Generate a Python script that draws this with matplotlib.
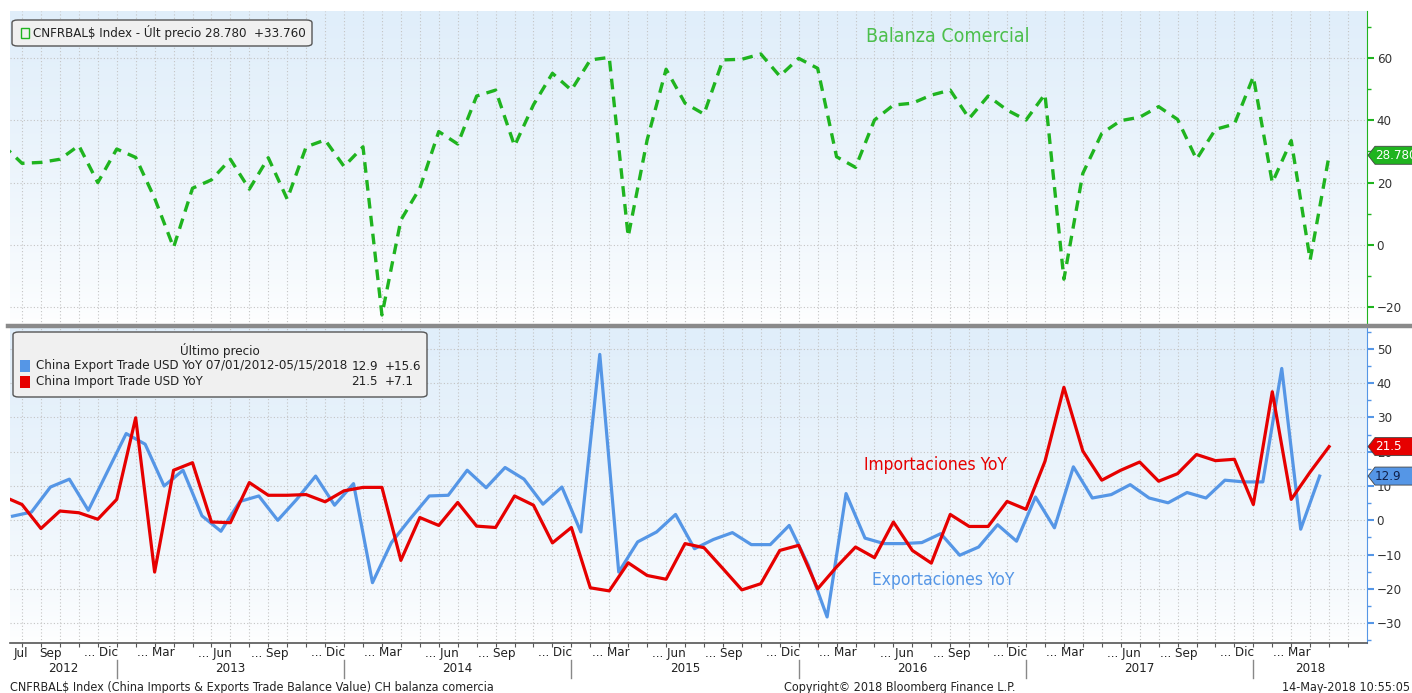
import numpy as np
import matplotlib
matplotlib.use('Agg')
import matplotlib.pyplot as plt
from matplotlib import font_manager, transforms
from matplotlib.colors import LinearSegmentedColormap
from matplotlib.patches import FancyBboxPatch, Polygon, Rectangle
from matplotlib.lines import Line2D

W, H = 1412, 693

# fuente estrecha si existe
_names = {f.name for f in font_manager.fontManager.ttflist}
if 'Liberation Sans Narrow' in _names:
    plt.rcParams['font.family'] = ['Liberation Sans Narrow', 'DejaVu Sans']
else:
    plt.rcParams['font.family'] = ['DejaVu Sans']
    plt.rcParams['font.stretch'] = 'condensed'

# Datos mensuales: índice 0 = Jul 2012, 69 = Abr 2018
# Balanza comercial (Jun 2012 .. Abr 2018)
balanza = [32.0, 26.2, 26.5, 27.5, 31.9, 20.0, 30.8, 28.1, 15.0, -0.8,
           18.2, 20.9, 27.5, 17.9, 28.0, 14.7, 31.5, 33.7, 25.2, 31.5,
           -22.5, 8.0, 18.2, 36.4, 32.4, 47.8, 49.7, 31.8, 45.0, 55.1,
           49.7, 59.4, 60.2, 2.7, 33.7, 56.4, 45.5, 42.0, 59.4, 59.6,
           61.3, 54.2, 59.9, 56.7, 28.3, 24.9, 40.1, 44.9, 45.5, 48.1,
           49.7, 40.6, 47.8, 43.3, 40.1, 48.4, -11.0, 23.0, 35.8, 39.9,
           41.0, 44.4, 40.3, 27.5, 37.1, 38.8, 54.0, 20.0, 33.5, -4.8,
           28.78]
# Importaciones YoY (Jun 2012 .. Abr 2018)
importaciones = [7.0, 4.6, -2.4, 2.7, 2.2, 0.3, 6.1, 29.9, -15.1, 14.6,
                 16.8, -0.5, -0.7, 11.0, 7.3, 7.3, 7.5, 5.4, 8.6, 9.6,
                 9.6, -11.7, 0.8, -1.5, 5.2, -1.7, -2.1, 7.1, 4.4, -6.6,
                 -2.1, -19.7, -20.6, -12.4, -16.1, -17.2, -6.8, -8.0, -14.1, -20.3,
                 -18.5, -8.8, -7.3, -20.0, -13.6, -7.8, -10.9, -0.5, -8.8, -12.5,
                 1.7, -1.8, -1.8, 5.5, 3.2, 17.2, 38.8, 20.2, 11.7, 14.6,
                 17.0, 11.4, 13.6, 19.2, 17.4, 17.8, 4.6, 37.5, 6.1, 14.1,
                 21.5]
# Exportaciones YoY (Jul 2012 .. Abr 2018)
exportaciones = [1.2, 2.4, 9.7, 12.0, 2.9, 14.1, 25.3, 22.2, 10.0, 14.6,
                 1.3, -3.2, 5.5, 7.1, 0.0, 6.1, 12.9, 4.4, 10.7, -18.2,
                 -6.5, 0.5, 7.1, 7.3, 14.6, 9.5, 15.4, 12.0, 4.7, 9.7,
                 -3.4, 48.4, -15.1, -6.3, -3.4, 1.7, -8.3, -5.6, -3.6, -7.1,
                 -7.1, -1.5, -13.0, -28.2, 7.8, -5.2, -6.8, -6.8, -6.5, -3.9,
                 -10.2, -7.8, -1.3, -6.1, 6.8, -2.2, 15.6, 6.5, 7.5, 10.4,
                 6.5, 5.1, 8.1, 6.5, 11.7, 11.2, 11.2, 44.3, -2.6, 12.9]

x_bal = np.arange(-1, 70)
x_imp = np.arange(-1, 70)
x_exp = np.arange(0, 70) - 0.5   # Bloomberg lo dibuja a mitad de mes

# etiquetas del eje x
mes_pos = [0, 2, 5] + [m + 12 * k for k in range(5) for m in (8, 11, 14, 17)] + [68]
mes_txt = ['Jul', 'Sep', '... Dic'] + ['... Mar', '... Jun', '... Sep', '... Dic'] * 5 + ['... Mar']
anios = ['2012', '2013', '2014', '2015', '2016', '2017', '2018']
cortes_anio = [5, 17, 29, 41, 53, 65]

VERDE = '#1fb41f'
ROJO = '#e60000'
AZUL = '#5596e6'
XMIN, XMAX = -0.634, 71.0

fig = plt.figure(figsize=(W / 100, H / 100), dpi=100)
fig.patch.set_facecolor('white')


def fx(x):
    return x / W


def fy(y):
    return 1 - y / H


ax1 = fig.add_axes([fx(10), fy(325), 1357 / W, 314 / H])
ax2 = fig.add_axes([fx(10), fy(643), 1357 / W, 315 / H])

grad = LinearSegmentedColormap.from_list('g', ['#ffffff', '#e0eefa'])
for ax in (ax1, ax2):
    ax.imshow(np.linspace(1, 0, 256)[:, None] ** 0.7, cmap=grad, aspect='auto',
              extent=[0, 1, 0, 1], transform=ax.transAxes, zorder=0)
    ax.set_xlim(XMIN, XMAX)
    for i in range(0, 71):
        ax.axvline(i, color='#c4c4c4', lw=0.8, ls=(0, (1, 2)), zorder=1)
    for s in ('top', 'left', 'bottom'):
        ax.spines[s].set_visible(False)
    ax.yaxis.tick_right()
    ax.tick_params(axis='y', which='both', direction='out', labelsize=9.5,
                   labelcolor='#333333', pad=2)
    ax.tick_params(axis='y', which='major', length=5, width=1.5)
    ax.tick_params(axis='y', which='minor', length=3, width=1)

# ---- panel superior: balanza comercial
ax1.set_ylim(-25.7, 75.1)
for v in (-20, 0, 20, 40, 60):
    ax1.axhline(v, color='#c4c4c4', lw=0.8, ls=(0, (1, 2)), zorder=1)
ax1.plot(x_bal, balanza, color=VERDE, lw=2.4, ls=(0, (3.2, 2.2)), zorder=3)
ax1.set_yticks([-20, 0, 20, 40, 60])
ax1.set_yticks([-10, 10, 30, 50, 70], minor=True)
ax1.spines['right'].set_color(VERDE)
ax1.tick_params(axis='y', which='both', color=VERDE)
ax1.set_xticks([])
ax1.text(948 / W, fy(37), 'Balanza Comercial', transform=fig.transFigure,
         ha='center', va='center', fontsize=14, color='#4cbf4c')

# ---- panel inferior: importaciones / exportaciones
ax2.set_ylim(-35.8, 56.1)
for v in range(-30, 51, 10):
    ax2.axhline(v, color='#c4c4c4', lw=0.8, ls=(0, (1, 2)), zorder=1)
ax2.plot(x_exp, exportaciones, color=AZUL, lw=2.3, zorder=3)
ax2.plot(x_imp, importaciones, color=ROJO, lw=2.3, zorder=4)
ax2.set_yticks(range(-30, 51, 10))
ax2.set_yticks(range(-35, 56, 10), minor=True)
ax2.spines['right'].set_color(AZUL)
ax2.spines['bottom'].set_visible(True)
ax2.spines['bottom'].set_color('#555555')
ax2.spines['bottom'].set_linewidth(1.2)
ax2.tick_params(axis='y', which='both', color=AZUL)
ax2.set_xticks(range(0, 71))
ax2.set_xticklabels([])
ax2.tick_params(axis='x', length=3, color='#555555', direction='out')
ax2.text(935 / W, fy(465), 'Importaciones YoY', transform=fig.transFigure,
         ha='center', va='center', fontsize=12.5, color=ROJO)
ax2.text(943 / W, fy(580), 'Exportaciones YoY', transform=fig.transFigure,
         ha='center', va='center', fontsize=12.5, color=AZUL)

# etiquetas de meses y años
tr = transforms.blended_transform_factory(ax2.transData, fig.transFigure)
for p, t in zip(mes_pos, mes_txt):
    if t == 'Jul':
        fig.text(p - 0.45, fy(653), t, transform=tr, ha='left', va='center', fontsize=9.5, color='#222222')
    elif t.startswith('...'):
        fig.text(p - 0.5 + 0.55, fy(653), t, transform=tr, ha='right', va='center', fontsize=9.5, color='#222222')
    else:
        fig.text(p - 0.5, fy(653), t, transform=tr, ha='center', va='center', fontsize=9.5, color='#222222')
bordes = [XMIN] + cortes_anio + [XMAX]
for k, a in enumerate(anios):
    fig.text((bordes[k] + bordes[k + 1]) / 2, fy(668), a, transform=tr,
             ha='center', va='center', fontsize=9.5, color='#222222')
for c in cortes_anio:
    fig.add_artist(Line2D([c, c], [fy(660), fy(678)], transform=tr, color='#888888', lw=1))

# separador gris entre paneles
fig.add_artist(Line2D([fx(8), 1], [fy(326.5), fy(326.5)], color='#8a8a8a', lw=3.2))

# etiquetas de último valor a la derecha
def etiqueta(ax, v, txt, fondo, color_txt):
    yc = ax.transData.transform((0, v))[1]
    x0 = ax.transAxes.transform((1, 0))[0] + 1
    pts = [(x0, yc), (x0 + 7, yc + 9), (x0 + 60, yc + 9), (x0 + 60, yc - 9), (x0 + 7, yc - 9)]
    fig.add_artist(Polygon(pts, closed=True, transform=None, facecolor=fondo,
                           edgecolor='#444444', lw=0.6, zorder=10))
    fig.text((x0 + 7) / W, yc / H, txt, ha='left', va='center', fontsize=9.5,
             color=color_txt, zorder=11)


etiqueta(ax1, balanza[-1], '28.780', VERDE, 'white')
etiqueta(ax2, importaciones[-1], '21.5', ROJO, 'white')
etiqueta(ax2, exportaciones[-1], '12.9', AZUL, '#10204a')

# leyenda superior
fig.add_artist(FancyBboxPatch((fx(12), fy(46)), 300 / W, 26 / H,
                              boxstyle='round,pad=0,rounding_size=0.004',
                              transform=fig.transFigure, facecolor='#f0f0f0',
                              edgecolor='#555555', lw=1, zorder=9))
fig.add_artist(Rectangle((fx(21), fy(38)), 8 / W, 10 / H, transform=fig.transFigure,
                         facecolor='none', edgecolor=VERDE, lw=1, zorder=10))
fig.text(fx(33), fy(33), 'CNFRBAL$ Index - Últ precio 28.780  +33.760', ha='left',
         va='center', fontsize=9.5, color='#222222', zorder=10)

# leyenda inferior
fig.add_artist(FancyBboxPatch((fx(13), fy(397)), 414 / W, 65 / H,
                              boxstyle='round,pad=0,rounding_size=0.004',
                              transform=fig.transFigure, facecolor='#f0f0f0',
                              edgecolor='#555555', lw=1, zorder=9))
fig.text(fx(220), fy(350), 'Último precio', ha='center', va='center', fontsize=9.5,
         color='#222222', zorder=10)
for y, col, nombre, val, cam in [(366, AZUL, 'China Export Trade USD YoY 07/01/2012-05/15/2018', '12.9', '+15.6'),
                                 (382, ROJO, 'China Import Trade USD YoY', '21.5', '+7.1')]:
    fig.add_artist(Rectangle((fx(20), fy(y + 6)), 10 / W, 12 / H, transform=fig.transFigure,
                             facecolor=col, edgecolor='none', zorder=10))
    fig.text(fx(36), fy(y), nombre, ha='left', va='center', fontsize=9.5, color='#222222', zorder=10)
    fig.text(fx(378), fy(y), val, ha='right', va='center', fontsize=9.5, color='#222222', zorder=10)
    fig.text(fx(385), fy(y), cam, ha='left', va='center', fontsize=9.5, color='#222222', zorder=10)

# pie
fig.text(fx(10), fy(687), 'CNFRBAL$ Index (China Imports & Exports Trade Balance Value) CH balanza comercia',
         ha='left', va='center', fontsize=9, color='#222222')
fig.text(fx(900), fy(687), 'Copyright© 2018 Bloomberg Finance L.P.', ha='center', va='center',
         fontsize=9, color='#222222')
fig.text(fx(1410), fy(687), '14-May-2018 10:55:05', ha='right', va='center', fontsize=9, color='#222222')

fig.savefig('out.png', dpi=100)
